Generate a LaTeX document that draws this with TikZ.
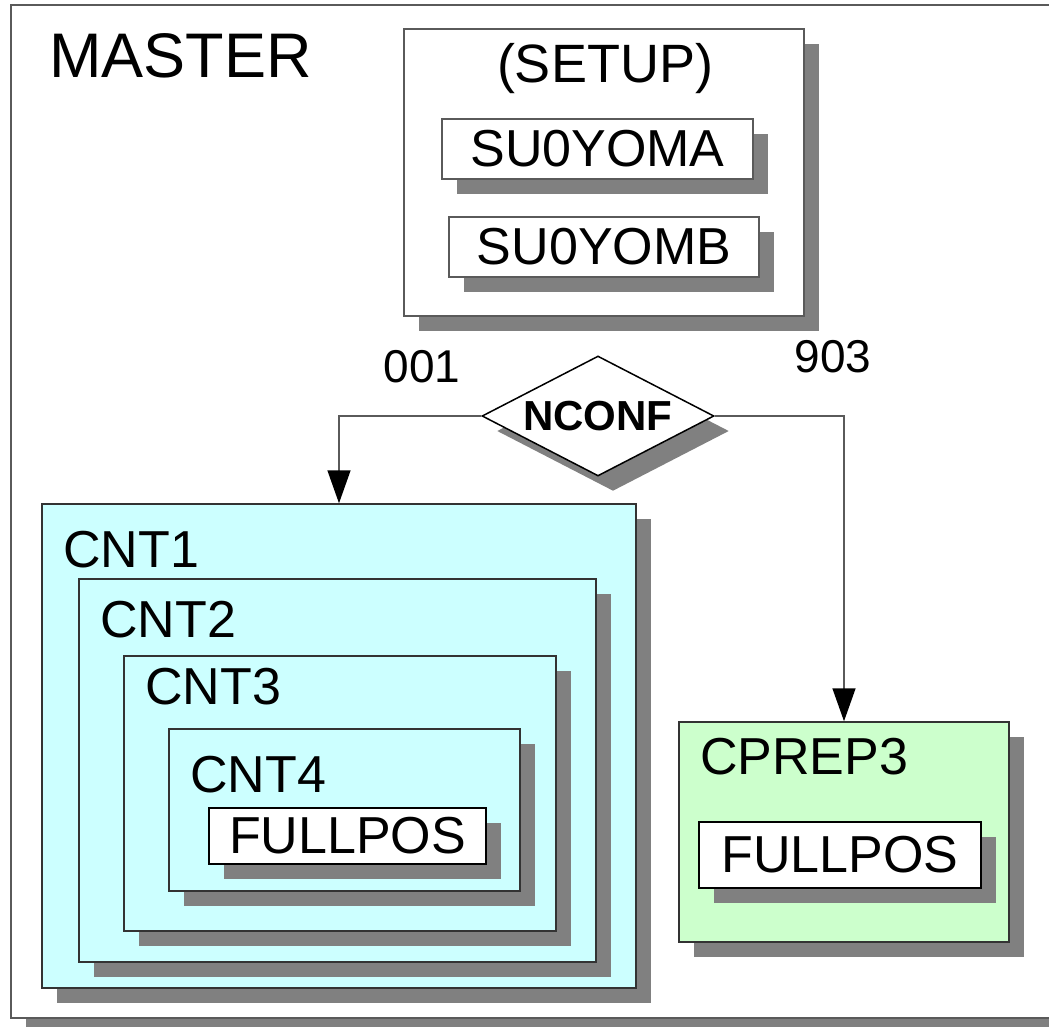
\documentclass[tikz,border=0pt]{standalone}
\usepackage{fontspec}
\setmainfont{Liberation Sans}
\usetikzlibrary{shapes.geometric,shadows,arrows.meta,positioning}
\definecolor{cntcyan}{HTML}{CCFFFF}
\definecolor{prepgreen}{HTML}{CCFFCC}
\definecolor{shadegray}{HTML}{808080}
\definecolor{edgegray}{HTML}{5A5A5A}

\begin{document}
\begin{tikzpicture}[x=1pt, y=-1pt, every node/.style={inner sep=0pt},
    box/.style={rectangle, draw=edgegray, line width=1.5pt, fill=white,
      drop shadow={shadow xshift=15pt, shadow yshift=-15pt, fill=shadegray, opacity=1}},
    cntbox/.style={box, fill=cntcyan, draw=black!80},
    txt/.style={font=\fontsize{52}{60}\selectfont},
    conn/.style={draw=edgegray, line width=1.5pt, -{Triangle[length=33pt,width=23pt,color=black]}} ]
    \useasboundingbox (0,0) rectangle (1049,1026);
    \clip (0,0) rectangle (1049,1026);
    \fill[white] (0,0) rectangle (1049,1026);

    % master frame
    \node[box, minimum width=1059pt, minimum height=1013pt] (master) at (540.5,511.5) {};
    \node[anchor=west, font=\fontsize{63}{72}\selectfont] (mastertxt) at (49,56) {MASTER};

    % setup
    \node[box, minimum width=400pt, minimum height=287pt] (setup) at (604,172.5) {};
    \node[font=\fontsize{54}{62}\selectfont] (setuptxt) at (605,69) {(SETUP)};
    \node[box, txt, minimum width=311pt, minimum height=60pt] (yoma) at (597.5,149) {SU0YOMA};
    \node[box, txt, minimum width=310pt, minimum height=60pt] (yomb) at (604,247) {SU0YOMB};

    % switch
    \node[diamond, aspect=2, draw=black, line width=1.5pt, fill=white, minimum width=232pt, minimum height=120pt,
      font=\fontsize{42}{50}\selectfont\bfseries,
      drop shadow={shadow xshift=15pt, shadow yshift=-15pt, fill=shadegray, opacity=1}] (nconf) at (598,416) {NCONF};
    \node[font=\fontsize{46}{54}\selectfont] (v001) at (422,367) {001};
    \node[font=\fontsize{46}{54}\selectfont] (v903) at (833,357) {903};

    % cnt nesting
    \node[cntbox, minimum width=594pt, minimum height=484pt] (cnt1) at (339,746) {};
    \node[txt, anchor=west] (cnt1txt) at (63,550) {CNT1};
    \node[cntbox, minimum width=517pt, minimum height=383pt] (cnt2) at (337.5,770.5) {};
    \node[txt, anchor=west] (cnt2txt) at (100,620) {CNT2};
    \node[cntbox, minimum width=432pt, minimum height=275pt] (cnt3) at (340,793.5) {};
    \node[txt, anchor=west] (cnt3txt) at (145,687) {CNT3};
    \node[cntbox, minimum width=351pt, minimum height=162pt] (cnt4) at (344.5,810) {};
    \node[txt, anchor=west] (cnt4txt) at (190,775) {CNT4};
    \node[box, txt, draw=black, minimum width=277pt, minimum height=56pt] (fullposa) at (347.5,836) {FULLPOS};

    % cprep3
    \node[box, fill=prepgreen, draw=black!80, minimum width=330pt, minimum height=220pt] (cprep) at (844,832) {};
    \node[txt, anchor=west] (cpreptxt) at (700,757) {CPREP3};
    \node[box, txt, draw=black, minimum width=282pt, minimum height=66pt] (fullposb) at (840,855) {FULLPOS};

    \draw[conn] (nconf.west) -| (cnt1.north);
    \draw[conn] (nconf.east) -| (cprep.north);

\end{tikzpicture}
\end{document}
